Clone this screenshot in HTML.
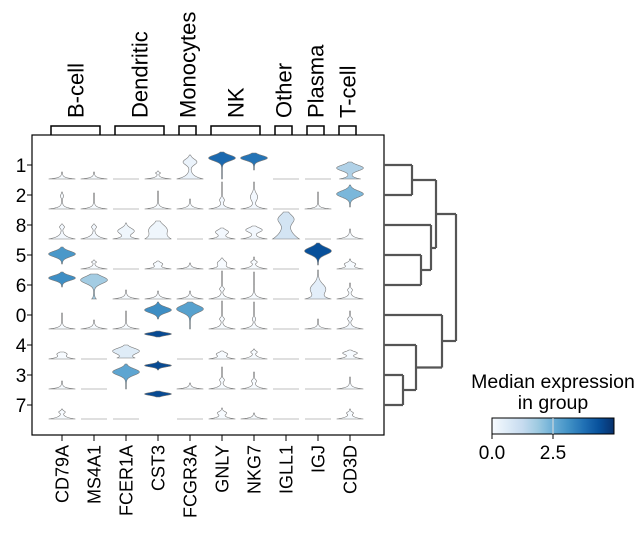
<!DOCTYPE html>
<html><head><meta charset="utf-8"><style>
html,body{margin:0;padding:0;background:#fff}
svg{display:block;font-family:"Liberation Sans",Arial,sans-serif}
</style></head><body>
<svg id="chart" width="641" height="535" viewBox="0 0 641 535"></svg>
<script>
const genes=["CD79A","MS4A1","FCER1A","CST3","FCGR3A","GNLY","NKG7","IGLL1","IGJ","CD3D"];
const groups=["1","2","8","5","6","0","4","3","7"];
const geneGroups=[["B-cell",0,1],["Dendritic",2,3],["Monocytes",4,4],["NK",5,6],["Other",7,7],["Plasma",8,8],["T-cell",9,9]];
const medians=[
[0,0,0,0,0.3,3.9,3.7,0,0,1.6],
[0,0,0,0,0,0.1,0.1,0,0,2.3],
[0.1,0.1,0.2,0.2,0,0.1,0.1,0.9,0,0],
[3.0,0,0,0,0,0,0,0,4.4,0],
[3.2,1.8,0,0,0,0,0,0,0.5,0],
[0,0,0,3.2,2.8,0,0,0,0,0.1],
[0,0,0.6,4.5,0,0,0,0,0,0],
[0,0,2.7,4.5,0,0,0,0,0,0],
[0,0,0,4.5,0,0,0,0,0,0]];
// shape per cell: [top, low, baseWeight, baseScale, bulbPos, bulbSigma, bulbWeight]
const shapes=[
[[7,0,1,2,0,1,0],[7,0,1,2,0,1,0],[0],[8,0,1,2,6,1,0.15],[24,0,1,5,17,4,0.5],[27,0,0,1,21,4,1],[26,9,0,1,21,3.5,1],[0],[0],[17,0,0.8,3,11,4,1]],
[[17,0,1,2.5,13,2,0.1],[16,0,1,2.5,0,1,0],[0],[18,0,1,2.5,0,1,0],[10,0,1,2.5,0,1,0],[27,0,1,3,9,2.5,0.15],[27,0,1,3,12,5,0.25],[0],[17,0,1,2,0,1,0],[24,2,0,1,15,4.5,1]],
[[15,0,1,4,12,2,0.15],[15,0,1,4,12,2,0.15],[16,0,1,3,8,4,0.6],[18,0,1,10,10,6,0.5],[0],[11,0,1,3,7,3,0.45],[13,0,1,3,9,3,0.6],[27,0,1,14,20,6,0.5],[0],[10,0,1,3,0,1,0]],
[[22,5,0,1,15,4,1],[9,0,1,2.5,7,1,0.15],[0],[8,0,1,2.5,5,2,0.3],[6,0,1,2,0,1,0],[11,0,1,3,6,3,0.3],[12,0,1,3,7,1.5,0.2],[0],[26,4,0,1,18,5,1],[10,0,1,3,5,2,0.35]],
[[27,12,0,1,21,3.5,1],[25,0,0.15,3,19,5,1],[9,0,1,2.5,0,1,0],[8,0,1,2.5,0,1,0],[8,0,1,2.5,0,1,0],[28,0,1,3,10,2,0.15],[27,0,1,3,0,1,0],[0],[29,0,1,4,10,7,0.6],[16,0,1,3,9,2,0.15]],
[[16,0,1,2.5,0,1,0],[9,0,1,2.5,0,1,0],[18,0,1,2.5,0,1,0],[27,10,0,1,19,4,1],[27,0,0,1,20,5,1],[28,0,1,3,10,2,0.15],[27,0,1,3,10,2,0.1],[0],[10,0,1,2,0,1,0],[18,0,1,3,10,2,0.15]],
[[7,0,1,3,5,2,0.3],[0],[14,1,1,4,8,4,1],[28,22,0,1,25,2,1],[0],[8,0,1,3,5,2,0.35],[10,0,1,3,7,1.5,0.2],[0],[0],[9,0,1,3,6,2,0.5]],
[[8,0,1,2,0,1,0],[0],[25,0,0,1,17,4.5,1],[28,19,0,1,23.5,2,1],[6,0,1,2,0,1,0],[22,0,1,3,9,2,0.15],[17,0,1,3,8,2,0.15],[0],[0],[12,0,1,2.5,0,1,0]],
[[10,0,1,3,7,1.5,0.2],[0],[0],[28,22,0,1,25,2,1],[0],[11,0,1,3,6,2,0.3],[6,0,1,2,0,1,0],[0],[0],[10,0,1,3,6,1.5,0.2]]];
const cbarTicks=[0,2.5];
const vmax=5;

const NS="http://www.w3.org/2000/svg";
const svg=document.getElementById('chart');
function mk(t,a,p){const e=document.createElementNS(NS,t);for(const k in a)e.setAttribute(k,a[k]);(p||svg).appendChild(e);return e;}
const X0=32,X1=384,Y0=135,Y1=435;
const xScale=i=>62+i*32;
const yScale=r=>165+r*30;
const stops=[[247,251,255],[222,235,247],[198,219,239],[158,202,225],[107,174,214],[66,146,198],[33,113,181],[8,81,156],[8,48,107]];
function color(v){let t=Math.max(0,Math.min(1,v/vmax))*8;const i=Math.min(7,Math.floor(t)),f=t-i;const a=stops[i],b=stops[i+1];return `rgb(${a.map((c,k)=>Math.round(c+(b[k]-c)*f)).join(',')})`;}

let e=mk('rect',{x:X0,y:Y0,width:X1-X0,height:Y1-Y0,fill:'none',stroke:'#000','stroke-width':1.2});



groups.forEach((g,r)=>{
  const base=yScale(r)+14;
  genes.forEach((gn,c)=>{
    const cx=xScale(c);const s=shapes[r][c];const m=medians[r][c];
    let el;
    if(!s[0]){
      el=mk('line',{x1:cx-13,x2:cx+13,y1:base,y2:base,stroke:'#aaa','stroke-width':0.8});
    } else {
      const [h,lo,z,zs,bp,bs,bw]=s;const N=80;const ts=[],ws=[];let mx=0;
      for(let k=0;k<=N;k++){const t=lo+(h-lo)*k/N;const w=z*Math.exp(-t/(zs*0.6))+bw*Math.exp(-Math.pow((t-bp)/bs,2));ts.push(t);ws.push(w);mx=Math.max(mx,w);}
      const hw=ws.map(w=>(mx>0?w/mx*13:0)+0.4);
      let d='';
      for(let k=0;k<=N;k++)d+=(k?'L':'M')+(cx+hw[k]).toFixed(2)+','+(base-ts[k]).toFixed(2);
      for(let k=N;k>=0;k--)d+='L'+(cx-hw[k]).toFixed(2)+','+(base-ts[k]).toFixed(2);
      d+='Z';
      el=mk('path',{d:d,fill:color(m),stroke:'#777','stroke-width':0.6});
    }
    
    
  });
  const t=mk('text',{x:21,y:yScale(r)+7,'font-size':19,'text-anchor':'middle'});t.textContent=g;
  
  
  mk('line',{x1:X0-5,x2:X0,y1:yScale(r),y2:yScale(r),stroke:'#000'});
});
genes.forEach((gn,c)=>{
  const cx=xScale(c);
  mk('line',{x1:cx,x2:cx,y1:Y1,y2:Y1+6,stroke:'#000'});
  const t=mk('text',{x:0,y:0,'font-size':18,'text-anchor':'end',transform:`translate(${cx+6.5},${Y1+10}) rotate(-90)`});t.textContent=gn;
  
  
});
geneGroups.forEach(([name,a,b])=>{
  const xa=xScale(a)-11,xb=xScale(b)+6;
  const p=mk('path',{d:`M${xa},${Y0}V126H${xb}V${Y0}`,fill:'none',stroke:'#000','stroke-width':1.5});
  
  
  const cx=(xa+xb)/2;
  const t=mk('text',{x:0,y:0,'font-size':22,'text-anchor':'start',transform:`translate(${cx+8},118) rotate(-90)`});t.textContent=name;
  
  
});
const Y=r=>yScale(r);
const dl=[[384,Y(0),412,Y(0)],[384,Y(1),412,Y(1)],[412,Y(0),412,Y(1)],
[384,Y(3),421,Y(3)],[384,Y(4),421,Y(4)],[421,Y(3),421,Y(4)],
[384,Y(2),431,Y(2)],[421,270,431,270],[431,Y(2),431,270],
[412,180,436,180],[431,248,436,248],[436,180,436,248],
[384,Y(7),403,Y(7)],[384,Y(8),403,Y(8)],[403,Y(7),403,Y(8)],
[384,Y(6),416,Y(6)],[403,390,416,390],[416,Y(6),416,390],
[384,Y(5),442,Y(5)],[416,367.5,442,367.5],[442,Y(5),442,367.5],
[436,214,456,214],[442,341,456,341],[456,214,456,341]];
const dg=mk('g',{stroke:'#555','stroke-width':2.2,fill:'none'});


dl.forEach(l=>mk('line',{x1:l[0],y1:l[1],x2:l[2],y2:l[3]},dg));
const defs=mk('defs',{});const lg=mk('linearGradient',{id:'cb',x1:0,x2:1,y1:0,y2:0},defs);
stops.forEach((s,i)=>mk('stop',{offset:i/8,'stop-color':`rgb(${s.join(',')})`},lg));
const cbX=492,cbW=122;
e=mk('rect',{x:cbX,y:418,width:cbW,height:16,fill:'url(#cb)',stroke:'#000','stroke-width':1});


cbarTicks.forEach(v=>{const x=cbX+v/vmax*cbW;
  if(v>0)mk('line',{x1:x,x2:x,y1:418,y2:434,stroke:'#ddd','stroke-width':1});
  mk('line',{x1:x,x2:x,y1:434,y2:439,stroke:'#000'});
  const t=mk('text',{x:x,y:459,'font-size':19,'text-anchor':'middle'});t.textContent=v.toFixed(1);
  
  });
e=mk('text',{x:553,y:388,'font-size':19.5,'text-anchor':'middle'});e.textContent='Median expression';


e=mk('text',{x:553,y:409,'font-size':19.5,'text-anchor':'middle'});e.textContent='in group';


</script>
</body></html>
